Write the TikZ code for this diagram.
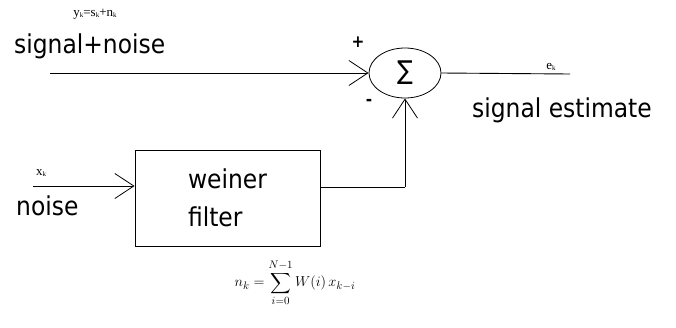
\documentclass[tikz,border=0pt]{standalone}
\usepackage{amsmath}
\usepackage{fontspec}
\usetikzlibrary{arrows.meta,shapes.geometric}
\setmainfont{Liberation Serif}
\newfontfamily\lbl{DejaVu Sans Condensed}
\tikzset{
  arr/.style={-{Straight Barb[length=19pt,width=25pt,line width=0.8pt]}, line width=0.9pt},
  wire/.style={line width=0.9pt},
  big/.style={font=\lbl\fontsize{26}{38}\selectfont, inner sep=0pt},
  small/.style={font=\fontsize{13}{14}\selectfont, inner sep=0pt},
  sumnode/.style={ellipse, draw, line width=0.8pt, minimum width=72pt, minimum height=50pt, inner sep=0pt},
  blockbox/.style={rectangle, draw, line width=0.9pt, minimum width=185pt, minimum height=96pt, inner sep=0pt}
}
\newcommand{\lo}[1]{\raisebox{-0.15ex}{\scriptsize #1}}
\begin{document}
\begin{tikzpicture}[x=1pt,y=-1pt]
\useasboundingbox (0,0) rectangle (676,327);
\node[sumnode] (s) at (405,73) {\lbl\fontsize{26}{26}\selectfont ∑};
\node[blockbox, align=left, font=\lbl\fontsize{26}{38}\selectfont] (box) at (227.5,198) {weiner\\filter};
\coordinate (in1) at (50,73);
\coordinate (in2) at (33,186);
\coordinate (out) at (570,74);
\coordinate (bend) at (405,187);
\draw[arr] (in1) -- (s.west);
\draw[arr] (in2) -- (in2 -| box.west);
\draw[wire] (box.east |- bend) -- (bend);
\draw[arr] (bend) -- (s.south);
\draw[wire] (s.east) -- (out);
\node[small] (ylab) at (95,14) {y\lo{k}=s\lo{k}+n\lo{k}};
\node[big, anchor=base west] (sn) at (14,53) {signal+noise};
\node[small] (xlab) at (41,173) {x\lo{k}};
\node[big, anchor=base west] (nz) at (16,215) {noise};
\node[font=\lbl\bfseries\fontsize{17}{17}\selectfont, inner sep=0pt] (plus) at (358,42) {+};
\node[font=\lbl\bfseries\fontsize{17}{17}\selectfont, inner sep=0pt] (minus) at (369,102) {-};
\node[small] (elab) at (551,67) {e\lo{k}};
\node[big, anchor=base west] (se) at (472,117) {signal estimate};
\node[font=\fontsize{15.5}{18}\selectfont, inner sep=0pt] (eq) at (295,283) {$\displaystyle n_k=\sum_{i=0}^{N-1}W(i)\,x_{k-i}$};
\end{tikzpicture}
\end{document}
